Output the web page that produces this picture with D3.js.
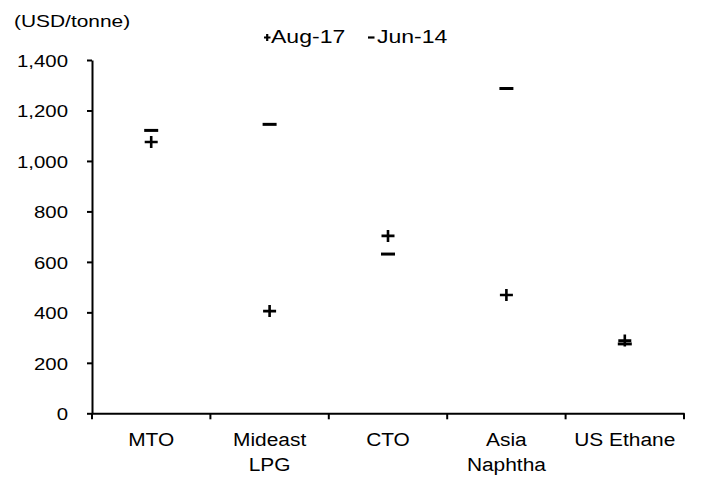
<!DOCTYPE html>
<html><head><meta charset="utf-8">
<script src="https://cdn.jsdelivr.net/npm/d3@7"></script>
<style>body{margin:0;background:#fff}svg{display:block}text{font-family:Arial,"Liberation Sans",sans-serif;fill:#000}</style>
</head><body><svg id="c" width="703" height="477"></svg>
<script>
const categories = [["MTO"], ["Mideast", "LPG"], ["CTO"], ["Asia", "Naphtha"], ["US Ethane"]];
const aug17 = [1075, 405, 703, 469, 288];
const jun14 = [1121, 1145, 631, 1287, 275];
const yTicks = [0, 200, 400, 600, 800, 1000, 1200, 1400];
const seriesNames = ["Aug-17", "Jun-14"];

const svg = d3.select("#c");
const m = {l: 92, r: 703 - 684, t: 60, b: 477 - 413.3};
const W = 703, H = 477;
const x = d3.scaleBand().domain(d3.range(categories.length)).range([m.l, W - m.r]);
const y = d3.scaleLinear().domain([0, 1400]).range([H - m.b, m.t]);

// y axis
const ya = svg.append("g").attr("transform", `translate(${m.l},0)`)
  .call(d3.axisLeft(y).tickValues(yTicks).tickSize(5).tickSizeOuter(0).tickFormat(d3.format(",")));
ya.select(".domain").attr("stroke", "#000").attr("stroke-width", 2);
ya.selectAll(".tick line").attr("stroke", "#000").attr("stroke-width", 2);
ya.selectAll(".tick text").attr("x", null).attr("dy", null).attr("text-anchor", "end")
  .attr("font-size", 17).attr("transform", "translate(-24,6.5) scale(1.2,1)");

// x axis
const xa = svg.append("g").attr("transform", `translate(0,${y(0)})`)
  .call(d3.axisBottom(x).tickSize(0).tickFormat(""));
xa.select(".domain").attr("stroke", "#000").attr("stroke-width", 2);
const xt = d3.range(categories.length + 1).map(i => m.l + i * x.bandwidth());
svg.append("g").selectAll("line").data(xt).join("line")
  .attr("x1", d => d).attr("x2", d => d).attr("y1", y(0)).attr("y2", y(0) + 6)
  .attr("stroke", "#000").attr("stroke-width", 2);
const xl = svg.append("g").selectAll("g").data(categories).join("g")
  .attr("transform", (d, i) => `translate(${x(i) + x.bandwidth() / 2},${y(0) + 32.5}) scale(1.1,1)`);
xl.each(function(d) {
  d3.select(this).selectAll("text").data(d).join("text")
    .attr("text-anchor", "middle").attr("font-size", 19)
    .attr("y", (t, j) => j * 25.5).text(t => t);
});

// markers
const cx = i => x(i) + x.bandwidth() / 2;
svg.append("g").selectAll("path").data(aug17).join("path")
  .attr("d", (v, i) => `M${cx(i) - 6.5},${y(v)}H${cx(i) + 6.5}M${cx(i)},${y(v) - 6}V${y(v) + 6}`)
  .attr("stroke", "#000").attr("stroke-width", 2.6).attr("fill", "none");
svg.append("g").selectAll("path").data(jun14).join("path")
  .attr("d", (v, i) => `M${cx(i) - 7},${y(v)}H${cx(i) + 7}`)
  .attr("stroke", "#000").attr("stroke-width", 3).attr("fill", "none");

// title
svg.append("text").attr("transform", "translate(14,27) scale(1.23,1)").attr("font-size", 17).text("(USD/tonne)");

// legend
const lg = svg.append("g");
lg.append("path").attr("d", "M264,37.5H270.5M267.2,34V41").attr("stroke", "#000").attr("stroke-width", 2.2);
lg.append("text").attr("transform", "translate(271,42.7) scale(1.28,1)").attr("font-size", 18).text(seriesNames[0]);
lg.append("path").attr("d", "M368,37.5H374.5").attr("stroke", "#000").attr("stroke-width", 2.2);
lg.append("text").attr("transform", "translate(377,42.7) scale(1.28,1)").attr("font-size", 18).text(seriesNames[1]);
</script></body></html>
